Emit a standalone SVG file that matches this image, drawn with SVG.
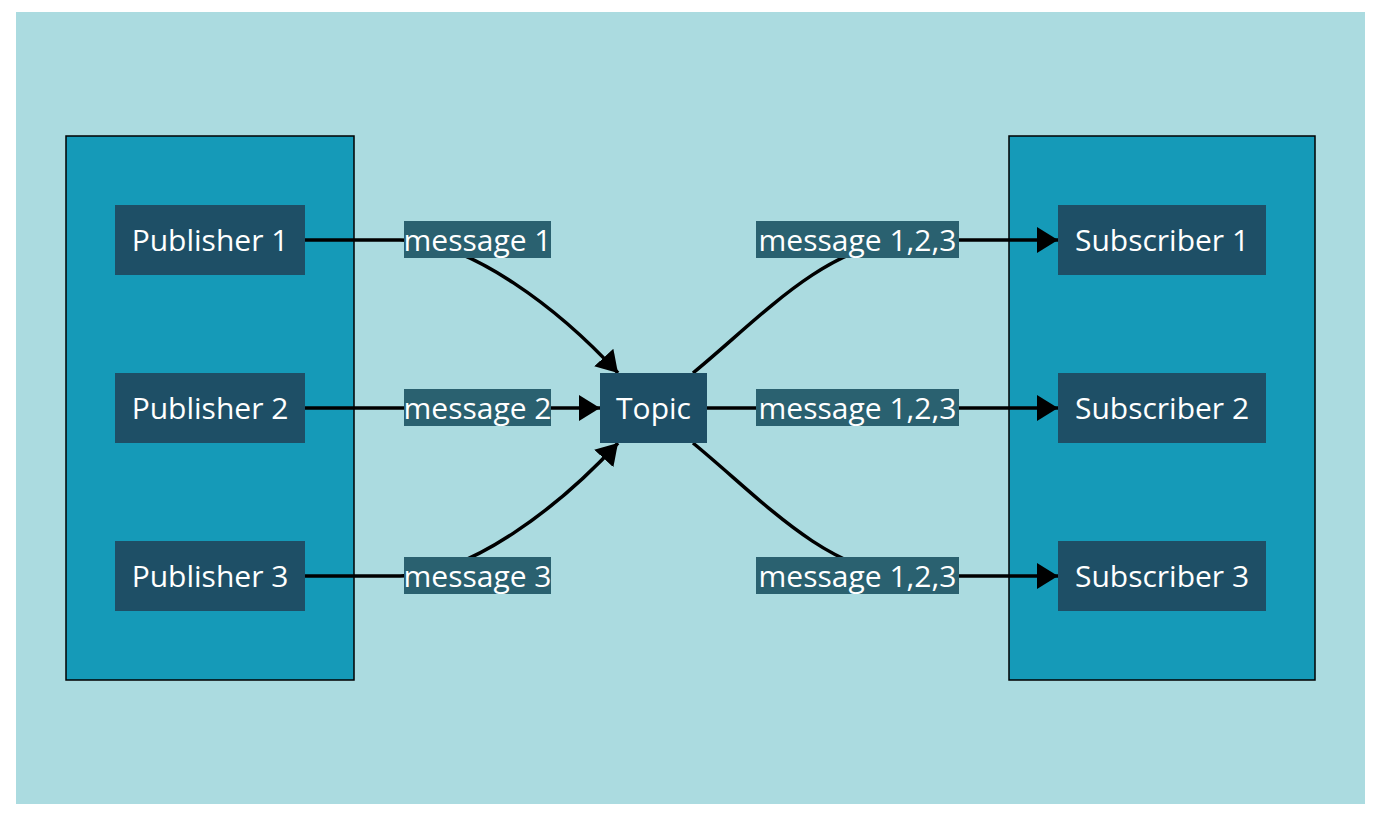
<svg xmlns="http://www.w3.org/2000/svg" width="1380" height="818" viewBox="0 0 1380 818">
<defs>
<style>
.cluster{fill:#159ab8;stroke:#000;stroke-width:1.5}
.node rect{fill:#1e4f66}
.lbl rect{fill:#2a6170}
text{font-family:"Open Sans","Liberation Sans",sans-serif;font-size:30px;fill:#fff;text-anchor:middle}
.edge{fill:none;stroke:#000;stroke-width:3.5;marker-end:url(#arr)}
</style>
<marker id="arr" markerUnits="userSpaceOnUse" markerWidth="23" markerHeight="26" refX="21" refY="13" orient="auto" viewBox="0 0 23 26">
<path d="M0,0 L21,13 L0,26 z" fill="#000"/>
</marker>
</defs>
<rect x="0" y="0" width="1380" height="818" fill="#fff"/>
<rect x="16" y="12" width="1349" height="792" fill="#abdbe0"/>
<g id="publishers">
<rect class="cluster" x="66" y="136" width="288" height="544"/>
</g>
<g id="subscribers">
<rect class="cluster" x="1009" y="136" width="306" height="544"/>
</g>
<g id="connectors">
<path class="edge" d="M305,240 L400,240 C470,240 560,310 618,373"/>
<path class="edge" d="M305,408 L600,408"/>
<path class="edge" d="M305,576 L400,576 C470,576 560,506 618,443"/>
<path class="edge" d="M693,373 C760,318 820,250 900,240 L1058,240"/>
<path class="edge" d="M707,408 L1058,408"/>
<path class="edge" d="M693,443 C760,498 820,566 900,576 L1058,576"/>
</g>
<g id="edge-labels">
<g class="lbl" id="lbl-m1"><rect x="404" y="221" width="147" height="37"/><text x="477.5" y="250.5">message 1</text></g>
<g class="lbl" id="lbl-m2"><rect x="404" y="389" width="147" height="37"/><text x="477.5" y="418.5">message 2</text></g>
<g class="lbl" id="lbl-m3"><rect x="404" y="557" width="147" height="37"/><text x="477.5" y="586.5">message 3</text></g>
<g class="lbl" id="lbl-s1"><rect x="756" y="221" width="203" height="37"/><text x="857.5" y="250.5">message 1,2,3</text></g>
<g class="lbl" id="lbl-s2"><rect x="756" y="389" width="203" height="37"/><text x="857.5" y="418.5">message 1,2,3</text></g>
<g class="lbl" id="lbl-s3"><rect x="756" y="557" width="203" height="37"/><text x="857.5" y="586.5">message 1,2,3</text></g>
</g>
<g class="node" id="pub1"><rect x="115" y="205" width="190" height="70"/><text x="210" y="250.5">Publisher 1</text></g>
<g class="node" id="pub2"><rect x="115" y="373" width="190" height="70"/><text x="210" y="418.5">Publisher 2</text></g>
<g class="node" id="pub3"><rect x="115" y="541" width="190" height="70"/><text x="210" y="586.5">Publisher 3</text></g>
<g class="node" id="topic"><rect x="600" y="373" width="107" height="70"/><text x="653.5" y="418.5">Topic</text></g>
<g class="node" id="sub1"><rect x="1058" y="205" width="208" height="70"/><text x="1162" y="250.5">Subscriber 1</text></g>
<g class="node" id="sub2"><rect x="1058" y="373" width="208" height="70"/><text x="1162" y="418.5">Subscriber 2</text></g>
<g class="node" id="sub3"><rect x="1058" y="541" width="208" height="70"/><text x="1162" y="586.5">Subscriber 3</text></g>
</svg>
